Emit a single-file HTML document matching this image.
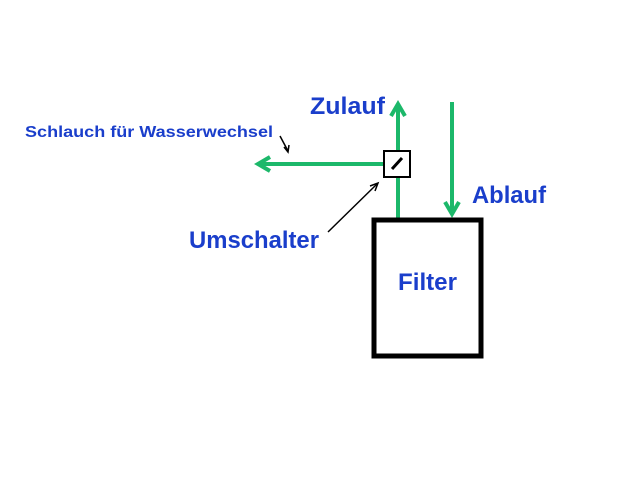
<!DOCTYPE html>
<html><head><style>
body{margin:0;background:#fff;width:640px;height:480px;overflow:hidden}
svg text{font-family:"Liberation Sans",sans-serif;font-weight:bold;fill:#1a3ecb}
</style></head><body>
<svg width="640" height="480" xmlns="http://www.w3.org/2000/svg">
<g stroke="#1cb86a" stroke-width="4" fill="none">
<line x1="398" y1="104" x2="398" y2="218"/>
<polyline points="391,116 398,104 405,116"/>
<line x1="258" y1="164" x2="386" y2="164"/>
<polyline points="270,157 258,164 270,171"/>
<line x1="452" y1="102" x2="452" y2="214"/>
<polyline points="445,202 452,214 459,202"/>
</g>
<rect x="384" y="151" width="26" height="26" fill="#fff" stroke="#000" stroke-width="2"/>
<line x1="392" y1="169" x2="402" y2="158" stroke="#000" stroke-width="3"/>
<rect x="374" y="220" width="107" height="136" fill="#fff" stroke="#000" stroke-width="5"/>
<line x1="328" y1="232" x2="377" y2="184" stroke="#000" stroke-width="1.5"/>
<polyline points="370,186 378,183 375,191" fill="none" stroke="#000" stroke-width="1.5"/>
<line x1="280" y1="136" x2="288" y2="151" stroke="#000" stroke-width="1.5"/>
<polyline points="284,147 288,152 289,145" fill="none" stroke="#000" stroke-width="1.5"/>
<text x="310" y="114" font-size="24" textLength="75" lengthAdjust="spacingAndGlyphs">Zulauf</text>
<text x="25" y="137" font-size="16" textLength="248" lengthAdjust="spacingAndGlyphs">Schlauch für Wasserwechsel</text>
<text x="472" y="203" font-size="24" textLength="74" lengthAdjust="spacingAndGlyphs">Ablauf</text>
<text x="189" y="248" font-size="24" textLength="130" lengthAdjust="spacingAndGlyphs">Umschalter</text>
<text x="398" y="290" font-size="24" textLength="59" lengthAdjust="spacingAndGlyphs">Filter</text>
</svg>
</body></html>
